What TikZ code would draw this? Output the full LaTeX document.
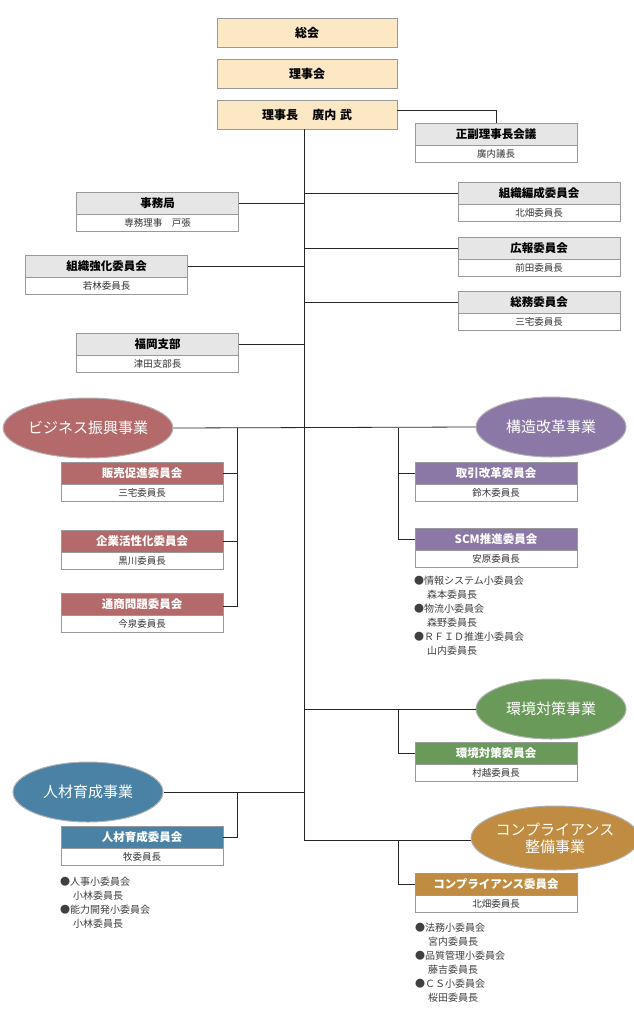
\documentclass[tikz,border=0pt]{standalone}
\usepackage{fontspec}
\setmainfont{Noto Sans CJK JP}
\newfontfamily\jpb{Noto Sans CJK JP}[BoldFont={* Bold}]
\usetikzlibrary{positioning,shapes.geometric}
\definecolor{topfill}{HTML}{FDE8C6}
\definecolor{cred}{HTML}{B46A6A}
\definecolor{cpur}{HTML}{8B78A6}
\definecolor{cgrn}{HTML}{6A9A5A}
\definecolor{cblu}{HTML}{4A82A6}
\definecolor{cgld}{HTML}{C08C42}
\definecolor{hgray}{HTML}{E6E6E6}
\tikzset{
  topbox/.style={draw=gray!80,fill=topfill,minimum width=180pt,minimum height=29pt,font=\fontsize{12}{14}\selectfont\bfseries,inner sep=0pt},
  hd/.style={draw=gray!80,minimum width=162pt,minimum height=22pt,font=\fontsize{11.5}{13}\selectfont\bfseries,inner sep=0pt,anchor=north},
  sb/.style={draw=gray!80,fill=white,minimum width=162pt,minimum height=17pt,font=\fontsize{9.5}{11}\selectfont,text=black!80,inner sep=0pt,anchor=north},
  ell/.style={ellipse,draw=gray!60,line width=1pt,minimum width=150pt,minimum height=60pt,text=white,font=\fontsize{15}{17}\selectfont,inner sep=0pt,align=center},
  conn/.style={draw=black!85,line width=0.8pt},
  blist/.style={anchor=north west,align=left,font=\fontsize{10}{14}\selectfont,text=black!75,inner sep=0pt}
}
% name, xcenter, ytop, fill, textcolor, title, sub
\newcommand\orgbox[7]{%
  \node[hd,fill=#4,text=#5] (#1) at (#2,#3) {#6};
  \node[sb] (#1s) at (#1.south) {#7};}
\begin{document}
\begin{tikzpicture}[x=1pt,y=-1pt]
\useasboundingbox (0,0) rectangle (633,1020);
\fill[white] (0,0) rectangle (633,1020);
\node[topbox] (sokai) at (307,32.5) {総会};
\node[topbox] (rijikai) at (307,73.5) {理事会};
\node[topbox] (rijicho) at (307,114.5) {理事長\hspace{1.2em}廣内\hspace{0.3em}武};
\coordinate (mtop) at (304,129);
\coordinate (mbot) at (304,840);
\draw[conn] (rijicho.south -| mtop) -- (mbot);

\orgbox{fuku}{496}{123}{hgray}{black}{正副理事長会議}{廣内議長}
\draw[conn] (rijicho.east |- 0,110) -| (fuku.north);

\orgbox{soshiki}{539}{182}{hgray}{black}{組織編成委員会}{北畑委員長}
\orgbox{koho}{539}{237}{hgray}{black}{広報委員会}{前田委員長}
\orgbox{somu}{539}{291}{hgray}{black}{総務委員会}{三宅委員長}
\orgbox{jimu}{157.5}{192}{hgray}{black}{事務局}{専務理事\hspace{1em}戸張}
\orgbox{kyoka}{106.5}{255}{hgray}{black}{組織強化委員会}{若林委員長}
\orgbox{fukuoka}{157.5}{333}{hgray}{black}{福岡支部}{津田支部長}
\draw[conn] (mtop |- soshiki.west) -- (soshiki.west);
\draw[conn] (mtop |- koho.west) -- (koho.west);
\draw[conn] (mtop |- somu.west) -- (somu.west);
\draw[conn] (jimu.east) -- (mtop |- jimu.east);
\draw[conn] (kyoka.east) -- (mtop |- kyoka.east);
\draw[conn] (fukuoka.east) -- (mtop |- fukuoka.east);

% business
\node[ell,fill=cred] (biz) at (88,428) {ビジネス振興事業};
\node[ell,fill=cpur] (kozo) at (551,427) {構造改革事業};
\draw[conn] (biz.east) -- (kozo.west);
\orgbox{hanbai}{142}{462}{cred}{white}{販売促進委員会}{三宅委員長}
\orgbox{kigyo}{142}{530}{cred}{white}{企業活性化委員会}{黒川委員長}
\orgbox{tsusho}{142}{593}{cred}{white}{通商問題委員会}{今泉委員長}
\coordinate (lb) at (237,428);
\draw[conn] (lb) |- (tsusho.south east |- 0,606) -- (tsusho.south east |- 0,606);
\draw[conn] (lb) -- (lb |- 0,606) -- (tsusho.east |- 0,606);
\draw[conn] (lb |- hanbai.east) -- (hanbai.east);
\draw[conn] (lb |- kigyo.east) -- (kigyo.east);

\orgbox{torihiki}{496}{462}{cpur}{white}{取引改革委員会}{鈴木委員長}
\orgbox{scm}{496}{528}{cpur}{white}{SCM推進委員会}{安原委員長}
\coordinate (rb) at (398,428);
\draw[conn] (rb) |- (scm.west);
\draw[conn] (rb |- torihiki.west) -- (torihiki.west);
\node[blist] (scml) at (414,576) {●情報システム小委員会\\\hspace{1.3em}森本委員長\\●物流小委員会\\\hspace{1.3em}森野委員長\\●ＲＦＩＤ推進小委員会\\\hspace{1.3em}山内委員長};

\node[ell,fill=cgrn] (kankyo) at (551,709) {環境対策事業};
\draw[conn] (mtop |- kankyo.west) -- (kankyo.west);
\orgbox{kankyoi}{496}{742}{cgrn}{white}{環境対策委員会}{村越委員長}
\coordinate (kb) at (398,709);
\draw[conn] (kb) |- (kankyoi.west);

\node[ell,fill=cblu] (jinzai) at (88,792) {人材育成事業};
\draw[conn] (jinzai.east) -- (mtop |- jinzai.east);
\orgbox{jinzaii}{142}{826}{cblu}{white}{人材育成委員会}{牧委員長}
\coordinate (jb) at (237,792);
\draw[conn] (jb) |- (jinzaii.east);
\node[blist] (jl) at (60,877) {●人事小委員会\\\hspace{1.3em}小林委員長\\●能力開発小委員会\\\hspace{1.3em}小林委員長};

\node[ell,fill=cgld,minimum width=146pt,minimum height=64pt,font=\fontsize{15}{17}\selectfont] (comp) at (555,838) {コンプライアンス\\整備事業};
\draw[conn] (mbot) -- (comp.west |- mbot);
\orgbox{compi}{496}{873}{cgld}{white}{コンプライアンス委員会}{北畑委員長}
\coordinate (cb) at (398,840);
\draw[conn] (cb) |- (compi.west);
\node[blist] (cl) at (415,923) {●法務小委員会\\\hspace{1.3em}宮内委員長\\●品質管理小委員会\\\hspace{1.3em}藤吉委員長\\●ＣＳ小委員会\\\hspace{1.3em}桜田委員長};
\end{tikzpicture}
\end{document}
